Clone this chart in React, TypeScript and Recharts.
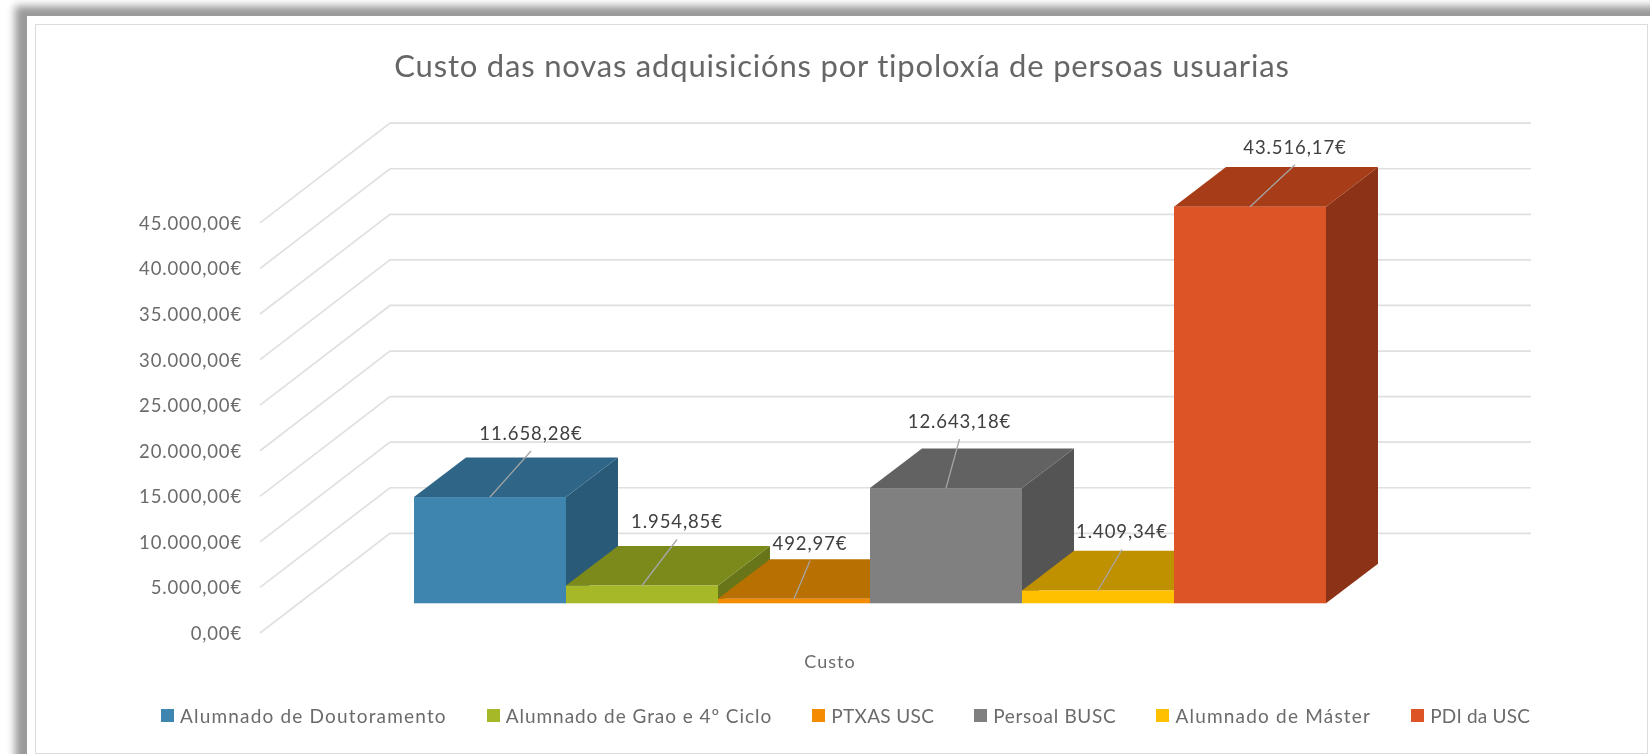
import { BarChart, Bar, XAxis, YAxis, CartesianGrid, Legend, LabelList } from 'recharts'

const categories = ['Custo']
const seriesNames = [
  'Alumnado de Doutoramento',
  'Alumnado de Grao e 4º Ciclo',
  'PTXAS USC',
  'Persoal BUSC',
  'Alumnado de Máster',
  'PDI da USC',
]
const seriesValues = [11658.28, 1954.85, 492.97, 12643.18, 1409.34, 43516.17]
const yTicks = [0, 5000, 10000, 15000, 20000, 25000, 30000, 35000, 40000, 45000]

const frontColors = ['#3e85b0', '#a6b727', '#f48b00', '#808080', '#ffc000', '#dd5426']
const topColors = ['#2f6687', '#7c8a1c', '#b87000', '#626262', '#bf9000', '#a63c18']
const sideColors = ['#295a78', '#687518', '#a56400', '#545454', '#a87f00', '#8c3216']

// where each data label sits, relative to the middle of the bar's top front edge
const labelShift = [[41, -64], [35, -64], [16, -56], [13.5, -67], [24, -59], [45, -60]]
// Lato is wider in capitals than the original font, so each legend entry gets its own spacing
const legendSpacing = [1.18, 0.94, 0.34, 0.7, 1.2, 0.2]

const DEPTH_X = 52
const DEPTH_Y = 39.6
const WALL_LEFT = 260
const WALL_BACK = 390
const WALL_RIGHT = 1531

const chartData = categories.map((name) => {
  const row: Record<string, string | number> = { name }
  seriesNames.forEach((s, i) => { row[s] = seriesValues[i] })
  return row
})

const money = (v: number) =>
  v.toLocaleString('de-DE', { minimumFractionDigits: 2, maximumFractionDigits: 2 }) + '€'

function makeBox(i: number) {
  return function Box(props: any) {
    const { x, y, width, height } = props
    const r = x + width
    const b = y + height
    return (
      <g>
        <polygon points={`${r},${y} ${r + DEPTH_X},${y - DEPTH_Y} ${r + DEPTH_X},${b - DEPTH_Y} ${r},${b}`} fill={sideColors[i]} />
        <polygon points={`${x},${y} ${x + DEPTH_X},${y - DEPTH_Y} ${r + DEPTH_X},${y - DEPTH_Y} ${r},${y}`} fill={topColors[i]} />
        <rect x={x} y={y} width={width} height={height} fill={frontColors[i]} />
      </g>
    )
  }
}

function makeLabel(i: number) {
  return function DataLabel(props: any) {
    const { x, y, width, value } = props
    const cx = x + width / 2
    const [dx, dy] = labelShift[i]
    return (
      <g>
        <line x1={cx} y1={y} x2={cx + dx} y2={y + dy + 18} stroke="#a6a6a6" strokeWidth={1.3} />
        <text x={cx + dx} y={y + dy} textAnchor="middle" dominantBaseline="central"
          fontFamily="Lato" fontSize={18.5} letterSpacing={0.9} fill="#404040">{money(value)}</text>
      </g>
    )
  }
}

// wall line for one value: front corner, back corner, then along the back wall
function GridLine(props: any) {
  const { y1 } = props
  return (
    <path
      key={props.key}
      d={`M${WALL_LEFT},${y1 + 29.7} L${WALL_BACK},${y1 - 70} L${WALL_RIGHT},${y1 - 70}`}
      fill="none" stroke="#e0e0e0" strokeWidth={1.7}
    />
  )
}

function YTick(props: any) {
  const { y, payload } = props
  return (
    <text x={242} y={y + 29.7} textAnchor="end" dominantBaseline="central"
      fontFamily="Lato" fontSize={18.5} letterSpacing={0.85} fill="#6b6b6b">{money(payload.value)}</text>
  )
}

function XTick(props: any) {
  const { x, y, payload } = props
  return (
    <text x={x - 40} y={y + 50} textAnchor="middle" dominantBaseline="central"
      fontFamily="Lato" fontSize={18} letterSpacing={1} fill="#6b6b6b">{payload.value}</text>
  )
}

function LegendRow(props: any) {
  return (
    <div style={{ display: 'flex', gap: 40, fontFamily: 'Lato', fontSize: 19, color: '#6b6b6b', whiteSpace: 'nowrap' }}>
      {props.payload.map((p: any, i: number) => (
        <div key={p.value} style={{ display: 'flex', alignItems: 'center', gap: 6 }}>
          <span style={{ display: 'block', width: 13, height: 13, background: p.color }} />
          <span style={{ letterSpacing: legendSpacing[i] }}>{p.value}</span>
        </div>
      ))}
    </div>
  )
}

export default function App() {
  return (
    <div style={{ position: 'absolute', left: 0, top: 0, width: 1650, height: 754, overflow: 'hidden', background: '#fff' }}>
      <div style={{ position: 'absolute', left: 27, top: 16, width: 1640, height: 760, background: '#fff', boxShadow: '-2px 0 8px 10px #9a9a9a' }} />
      <div style={{ position: 'absolute', left: 35, top: 24, width: 1611, height: 728, border: '1.5px solid #dcdcdc' }} />
      <div style={{ position: 'absolute', left: 0, top: 0, filter: 'blur(0.5px)' }}>
        <BarChart
          width={1650}
          height={754}
          data={chartData}
          barGap={0}
          barCategoryGap={0}
          margin={{ left: 260, right: 324, top: 193.2, bottom: 100.7 }}
        >
          <text x={842} y={65} textAnchor="middle" dominantBaseline="central"
            fontFamily="Lato" fontSize={31} letterSpacing={0.8} fill="#666666">
            Custo das novas adquisicións por tipoloxía de persoas usuarias
          </text>
          <CartesianGrid horizontal={GridLine} vertical={false} />
          <XAxis dataKey="name" height={50} axisLine={false} tickLine={false} tick={XTick} />
          <YAxis width={154} domain={[0, 45000]} ticks={yTicks} axisLine={false} tickLine={false} tick={YTick} />
          <Legend
            layout="horizontal"
            verticalAlign="middle"
            align="center"
            itemSorter={null}
            wrapperStyle={{ left: 161, top: 704, width: 1420 }}
            content={LegendRow}
          />
          {seriesNames.map((s, i) => (
            <Bar key={s} dataKey={s} fill={frontColors[i]} shape={makeBox(i)} isAnimationActive={false}>
              <LabelList dataKey={s} content={makeLabel(i)} />
            </Bar>
          ))}
        </BarChart>
      </div>
    </div>
  )
}
